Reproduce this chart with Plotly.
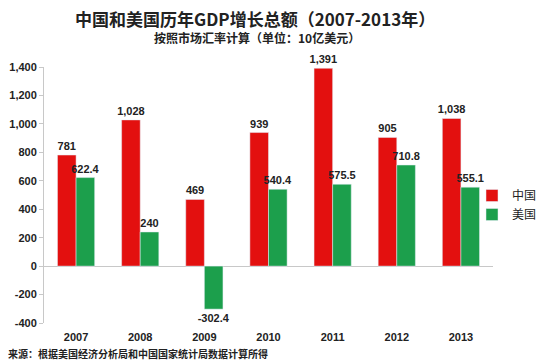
import plotly.graph_objects as go

years = ["2007", "2008", "2009", "2010", "2011", "2012", "2013"]
china = [781, 1028, 469, 939, 1391, 905, 1038]
usa = [622.4, 240, -302.4, 540.4, 575.5, 710.8, 555.1]
series_names = ["中国", "美国"]
y_ticks = [-400, -200, 0, 200, 400, 600, 800, 1000, 1200, 1400]

title = "中国和美国历年GDP增长总额（2007-2013年）"
subtitle = "按照市场汇率计算（单位：10亿美元）"
source = "来源：根据美国经济分析局和中国国家统计局数据计算所得"

RED = "#E3100F"
GREEN = "#1C9F4C"
FONT = "Liberation Sans, Noto Sans CJK SC, sans-serif"
CJK = "Noto Sans CJK SC, sans-serif"

def fmt(v):
    return f"{v:,}"

# page body has an 8px margin; plot area in window coords: x 44..493, y 67..323
def px(X):
    return (X - 44) / 449

def py(Y):
    return (323 - Y) / 256

label_font = dict(family=FONT, size=11, color="#222", weight="bold")

fig = go.Figure()
fig.add_trace(go.Bar(x=years, y=china, name=series_names[0], marker_color=RED,
                     text=[fmt(v) for v in china], textposition="outside",
                     textfont=label_font, constraintext="none",
                     cliponaxis=False))
fig.add_trace(go.Bar(x=years, y=usa, name=series_names[1], marker_color=GREEN,
                     text=[fmt(v) for v in usa], textposition="outside",
                     textfont=label_font, constraintext="none",
                     cliponaxis=False))

fig.update_layout(
    width=550, height=363,
    margin=dict(l=36, r=65, t=59, b=48, autoexpand=False),
    paper_bgcolor="white", plot_bgcolor="white",
    barmode="group", bargap=0.42, bargroupgap=0,
    font=dict(family=FONT, size=11, color="#222"),
    showlegend=True,
    legend=dict(x=px(472), xanchor="left", y=py(205), yanchor="middle",
                font=dict(family=CJK, size=12, color="#222"),
                bgcolor="rgba(0,0,0,0)",
                tracegroupgap=0, itemwidth=30),
    xaxis=dict(showline=False, ticks="", showgrid=False, automargin=False,
               tickfont=label_font, ticklabelstandoff=6),
    yaxis=dict(range=[-400, 1400], tickvals=y_ticks, automargin=False,
               ticktext=[fmt(v) for v in y_ticks],
               showline=True, linecolor="#c8c8c8", linewidth=1,
               ticks="outside", ticklen=4, tickcolor="#c8c8c8",
               showgrid=False, zeroline=True, zerolinecolor="#c8c8c8",
               zerolinewidth=1, tickfont=label_font),
    annotations=[
        dict(text="<b>" + title + "</b>", xref="paper", yref="paper",
             x=px(255), y=py(18), xanchor="center", yanchor="middle",
             showarrow=False, font=dict(family=CJK, size=17, color="#222")),
        dict(text="<b>" + subtitle + "</b>", xref="paper", yref="paper",
             x=px(257), y=py(37), xanchor="center", yanchor="middle",
             showarrow=False, font=dict(family=CJK, size=12, color="#222")),
        dict(text="<b>" + source + "</b>", xref="paper", yref="paper",
             x=px(6), y=py(353), xanchor="left", yanchor="middle",
             showarrow=False, font=dict(family=CJK, size=10, color="#222")),
    ],
)

fig.write_html("out.html")
